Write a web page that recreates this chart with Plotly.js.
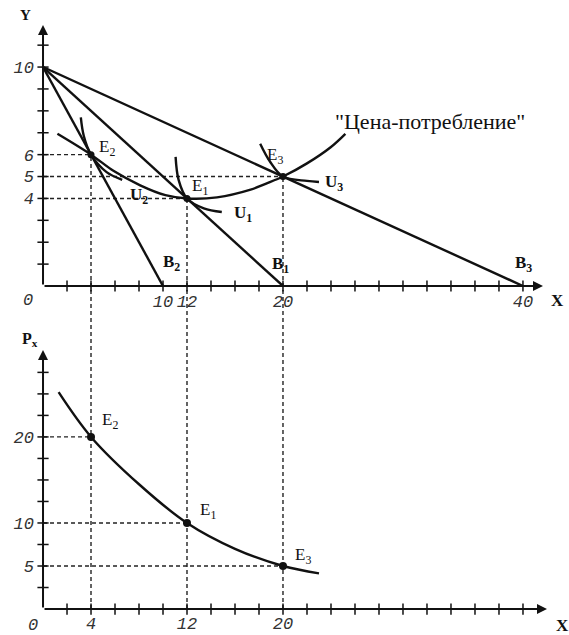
<!DOCTYPE html>
<html>
<head>
<meta charset="utf-8">
<script src="https://cdn.plot.ly/plotly-3.0.1.min.js"></script>
<style>
  html, body { margin: 0; padding: 0; background: #fff; }
  #chart { width: 569px; height: 635px; }
</style>
</head>
<body>
<div id="chart"></div>
<script>
// Equilibrium points: quantity of X, quantity of Y and the price of X
const eqNames = ['E<sub>2</sub>', 'E<sub>1</sub>', 'E<sub>3</sub>'];
const eqX = [4, 12, 20];
const eqY = [6, 4, 5];
const eqPx = [20, 10, 5];

// Budget lines: same income (10 units of Y), X intercept changes with the price of X
const budgetNames = ['B<sub>2</sub>', 'B<sub>1</sub>', 'B<sub>3</sub>'];
const budgetYIntercept = 10;
const budgetXIntercept = [10, 20, 40];

// Indifference curves
const u2X = [3.15, 3.4, 4, 5.3, 6.6];
const u2Y = [7.7, 6.85, 6, 5.2, 4.85];
const u1X = [11.05, 11.3, 12, 13.4, 14.9];
const u1Y = [5.9, 4.85, 4, 3.55, 3.38];
const u3X = [18.1, 18.9, 20, 22, 23];
const u3Y = [6.5, 5.7, 5, 4.8, 4.75];

// Price-consumption curve
const pccX = [1.2, 4, 5.9, 8.1, 10.2, 12, 14.5, 17.3, 18.6, 20, 22, 24, 25.2];
const pccY = [6.95, 6, 5.25, 4.6, 4.15, 4, 4.05, 4.4, 4.68, 5, 5.6, 6.35, 6.95];

// Demand curve for X
const demandX = [1.3, 4, 8, 12, 16, 20, 23];
const demandPx = [25.2, 20, 14.5, 10, 7, 5, 4.15];

// Tick marks and tick labels
const topXTickMarks = [2, 4, 6, 8, 10, 12, 14, 16, 18, 20, 22, 24, 26, 28, 30, 32, 34, 36, 38, 40];
const topYTickMarks = [1, 2, 3, 4, 5, 6, 7, 8, 9, 10, 11];
const botXTickMarks = [2, 4, 6, 8, 10, 12, 14, 16, 18, 20, 22, 24, 26, 28, 30, 32, 34, 36, 38, 40];
const botYTickMarks = [2.5, 5, 7.5, 10, 12.5, 15, 17.5, 20, 22.5, 25, 27.5];
const topXTickVals = [10, 12, 20, 40];
const topXTickText = ['10', '12', '20', '40'];
const topYTickVals = [4, 5, 6, 10];
const topYTickText = ['4', '5', '6', '10'];
const botXTickVals = [4, 12, 20];
const botXTickText = ['4', '12', '20'];
const botYTickVals = [5, 10, 20];
const botYTickText = ['5', '10', '20'];

// ---- frame geometry ----
const topPanel = { xDom: [0.0756, 0.9543], xRange: [0, 41.67], yDom: [0.5496, 0.9606], yRange: [0, 11.92], xa: 'x', ya: 'y' };
const botPanel = { xDom: [0.0756, 0.9613], xRange: [0, 42], yDom: [0.0409, 0.4488], yRange: [0, 30.1], xa: 'x2', ya: 'y2' };

const ink = '#111';
const tickFont = { family: 'Liberation Mono', size: 17, color: '#333', style: 'italic' };
const serif = 'Liberation Serif';

// data value -> paper fraction for a panel
function lin(v, dom, range) {
  return dom[0] + (v - range[0]) / (range[1] - range[0]) * (dom[1] - dom[0]);
}
function paperX(p, v) { return lin(v, p.xDom, p.xRange); }
function paperY(p, v) { return lin(v, p.yDom, p.yRange); }

const traces = [];

// budget lines
budgetXIntercept.forEach(function (b) {
  traces.push({ x: [0, b], y: [budgetYIntercept, 0], mode: 'lines', xaxis: 'x', yaxis: 'y',
    line: { color: ink, width: 2.4 }, hoverinfo: 'skip' });
});

// indifference curves and price-consumption curve
[[u2X, u2Y], [u1X, u1Y], [u3X, u3Y], [pccX, pccY]].forEach(function (c) {
  traces.push({ x: c[0], y: c[1], mode: 'lines', xaxis: 'x', yaxis: 'y',
    line: { color: ink, width: 2.4, shape: 'spline', smoothing: 1 }, hoverinfo: 'skip' });
});

// equilibrium points
traces.push({ x: eqX, y: eqY, mode: 'markers', xaxis: 'x', yaxis: 'y',
  marker: { color: ink, size: 7 }, hoverinfo: 'skip' });

// demand curve
traces.push({ x: demandX, y: demandPx, mode: 'lines', xaxis: 'x2', yaxis: 'y2',
  line: { color: ink, width: 2.4, shape: 'spline', smoothing: 1 }, hoverinfo: 'skip' });
traces.push({ x: eqX, y: eqPx, mode: 'markers', xaxis: 'x2', yaxis: 'y2',
  marker: { color: ink, size: 8 }, hoverinfo: 'skip' });

// tick marks crossing the axes
function tickTrace(vals, horizontal, xa, ya) {
  const zeros = vals.map(function () { return 0; });
  return {
    x: horizontal ? vals : zeros, y: horizontal ? zeros : vals,
    mode: 'markers', xaxis: xa, yaxis: ya, cliponaxis: false, hoverinfo: 'skip',
    marker: { symbol: horizontal ? 'line-ns' : 'line-ew', size: 8, color: ink,
      line: { color: ink, width: 1.5 } }
  };
}
traces.push(tickTrace(topXTickMarks, true, 'x', 'y'));
traces.push(tickTrace(topYTickMarks, false, 'x', 'y'));
traces.push(tickTrace(botXTickMarks, true, 'x2', 'y2'));
traces.push(tickTrace(botYTickMarks, false, 'x2', 'y2'));

// dashed guides
const dash = { color: '#222', width: 1.4, dash: '4px,3px' };
const shapes = [];
eqX.forEach(function (x, i) {
  shapes.push({ type: 'line', layer: 'below', xref: 'x', yref: 'paper',
    x0: x, x1: x, y0: botPanel.yDom[0], y1: paperY(topPanel, eqY[i]), line: dash });
  shapes.push({ type: 'line', layer: 'below', xref: 'x', yref: 'y',
    x0: 0, x1: x, y0: eqY[i], y1: eqY[i], line: dash });
  shapes.push({ type: 'line', layer: 'below', xref: 'x2', yref: 'y2',
    x0: 0, x1: x, y0: eqPx[i], y1: eqPx[i], line: dash });
});

// axis arrows
function axisArrow(p, x, y) {
  return { xref: p.xa, yref: p.ya, axref: p.xa, ayref: p.ya, x: x, y: y, ax: 0, ay: 0, text: '',
    showarrow: true, arrowhead: 2, arrowsize: 1, arrowwidth: 2, arrowcolor: ink };
}

// text placed by data value of a panel, converted to paper so it may sit outside the axes
function label(p, x, y, text, opts) {
  const o = opts || {};
  return {
    xref: 'paper', yref: 'paper', x: paperX(p, x), y: paperY(p, y), text: text, showarrow: false,
    xanchor: o.xanchor || 'left', yanchor: 'middle',
    font: o.font || { family: serif, size: o.size || 17, color: ink, weight: o.bold ? 'bold' : 'normal' }
  };
}

const annotations = [
  axisArrow(topPanel, topPanel.xRange[1], 0),
  axisArrow(topPanel, 0, topPanel.yRange[1]),
  axisArrow(botPanel, botPanel.xRange[1], 0),
  axisArrow(botPanel, 0, botPanel.yRange[1]),

  label(topPanel, -1.5, 12.4, 'Y', { bold: true, size: 15, xanchor: 'center' }),
  label(topPanel, 42.9, -0.64, 'X', { bold: true, size: 17, xanchor: 'center' }),
  label(topPanel, -1.25, -0.64, '0', { font: tickFont, xanchor: 'center' }),

  label(topPanel, 4.5, 6.3, eqNames[0]),
  label(topPanel, 12.25, 4.5, eqNames[1]),
  label(topPanel, 18.5, 5.94, eqNames[2]),
  label(topPanel, 7.1, 4.13, 'U<sub>2</sub>', { bold: true }),
  label(topPanel, 15.75, 3.29, 'U<sub>1</sub>', { bold: true }),
  label(topPanel, 23.3, 4.7, 'U<sub>3</sub>', { bold: true }),
  label(topPanel, 9.8, 1.05, budgetNames[0], { bold: true }),
  label(topPanel, 18.9, 0.96, budgetNames[1], { bold: true }),
  label(topPanel, 39.2, 1.0, budgetNames[2], { bold: true }),
  label(topPanel, 24.2, 7.53, '"Цена-потребление"', { size: 22 }),

  label(botPanel, -1.08, 31.3, 'P<sub>x</sub>', { bold: true, size: 16, xanchor: 'center' }),
  label(botPanel, 43.3, -1.86, 'X', { bold: true, size: 17, xanchor: 'center' }),
  label(botPanel, -0.83, -1.95, '0', { font: tickFont, xanchor: 'center' }),
  label(botPanel, 4.75, 21.8, eqNames[0]),
  label(botPanel, 12.9, 11.4, eqNames[1]),
  label(botPanel, 20.8, 6.2, eqNames[2])
];

function axis(p, anchor, vals, text, standoff) {
  const isX = anchor.charAt(0) === 'y';
  return { domain: isX ? p.xDom : p.yDom, range: isX ? p.xRange : p.yRange, anchor: anchor,
    showgrid: false, zeroline: false, showline: false, ticks: '', tickmode: 'array',
    tickvals: vals, ticktext: text, tickfont: tickFont, ticklabelstandoff: standoff, fixedrange: true };
}

const layout = {
  width: 569, height: 635,
  margin: { l: 0, r: 0, t: 0, b: 0 },
  paper_bgcolor: '#fff', plot_bgcolor: 'rgba(0,0,0,0)',
  showlegend: false,
  xaxis: axis(topPanel, 'y', topXTickVals, topXTickText, 3),
  yaxis: axis(topPanel, 'x', topYTickVals, topYTickText, 8),
  xaxis2: axis(botPanel, 'y2', botXTickVals, botXTickText, 2),
  yaxis2: axis(botPanel, 'x2', botYTickVals, botYTickText, 8),
  shapes: shapes,
  annotations: annotations
};

Plotly.newPlot('chart', traces, layout, { displayModeBar: false, staticPlot: true });
</script>
</body>
</html>
